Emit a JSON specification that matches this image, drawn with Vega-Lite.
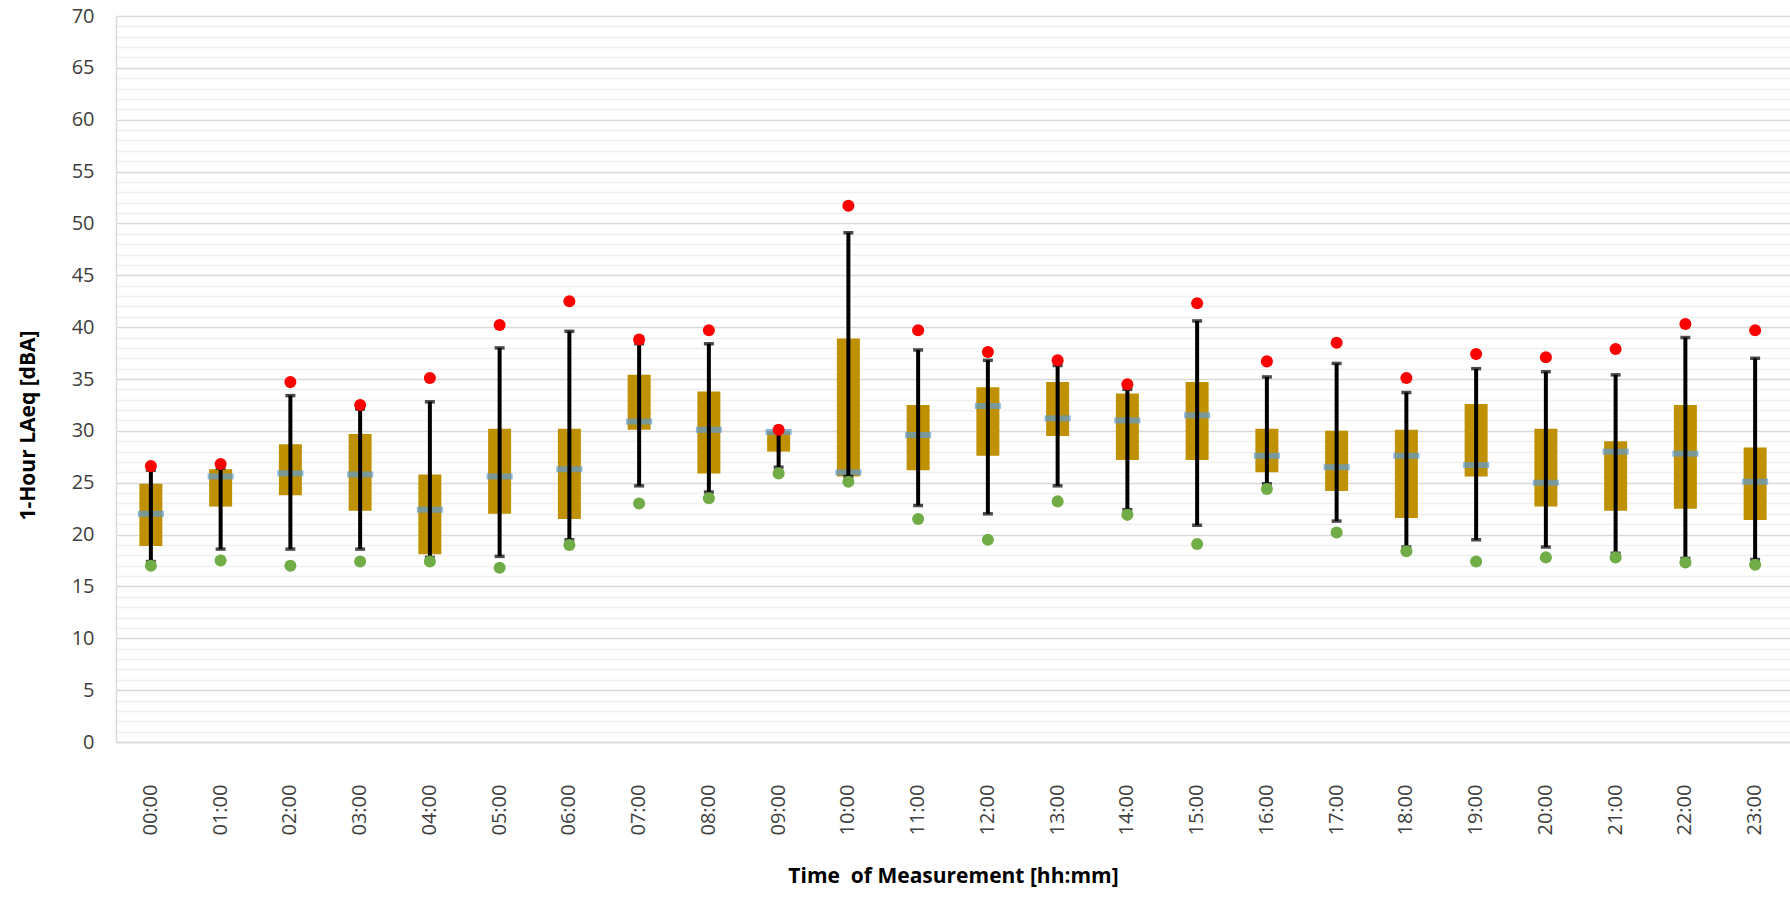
{
  "$schema": "https://vega.github.io/schema/vega-lite/v6.json",
  "autosize": "none",
  "width": 1674,
  "height": 726,
  "padding": {"left": 116, "top": 16, "right": 0, "bottom": 157},
  "background": "white",
  "config": {
    "view": {"stroke": null},
    "font": "Open Sans"
  },
  "data": {
    "values": [
      {"hour": "00:00", "lo": 17.4, "q1": 18.9, "med": 22.0, "q3": 24.9, "hi": 26.2, "max": 26.6, "min": 17.0},
      {"hour": "01:00", "lo": 18.6, "q1": 22.7, "med": 25.6, "q3": 26.3, "hi": 26.4, "max": 26.8, "min": 17.5},
      {"hour": "02:00", "lo": 18.6, "q1": 23.8, "med": 25.9, "q3": 28.7, "hi": 33.4, "max": 34.7, "min": 17.0},
      {"hour": "03:00", "lo": 18.6, "q1": 22.3, "med": 25.8, "q3": 29.7, "hi": 32.1, "max": 32.5, "min": 17.4},
      {"hour": "04:00", "lo": 17.8, "q1": 18.1, "med": 22.4, "q3": 25.8, "hi": 32.8, "max": 35.1, "min": 17.4},
      {"hour": "05:00", "lo": 17.9, "q1": 22.0, "med": 25.6, "q3": 30.2, "hi": 38.0, "max": 40.2, "min": 16.8},
      {"hour": "06:00", "lo": 19.5, "q1": 21.5, "med": 26.3, "q3": 30.2, "hi": 39.6, "max": 42.5, "min": 19.0},
      {"hour": "07:00", "lo": 24.7, "q1": 30.1, "med": 30.9, "q3": 35.4, "hi": 38.4, "max": 38.8, "min": 23.0},
      {"hour": "08:00", "lo": 24.1, "q1": 25.9, "med": 30.1, "q3": 33.8, "hi": 38.4, "max": 39.7, "min": 23.5},
      {"hour": "09:00", "lo": 26.5, "q1": 28.0, "med": 29.9, "q3": 30.0, "hi": 30.0, "max": 30.1, "min": 25.9},
      {"hour": "10:00", "lo": 25.6, "q1": 25.6, "med": 26.0, "q3": 38.9, "hi": 49.1, "max": 51.7, "min": 25.1},
      {"hour": "11:00", "lo": 22.8, "q1": 26.2, "med": 29.6, "q3": 32.5, "hi": 37.8, "max": 39.7, "min": 21.5},
      {"hour": "12:00", "lo": 22.0, "q1": 27.6, "med": 32.4, "q3": 34.2, "hi": 36.8, "max": 37.6, "min": 19.5},
      {"hour": "13:00", "lo": 24.7, "q1": 29.5, "med": 31.2, "q3": 34.7, "hi": 36.3, "max": 36.8, "min": 23.2},
      {"hour": "14:00", "lo": 22.4, "q1": 27.2, "med": 31.0, "q3": 33.6, "hi": 34.0, "max": 34.5, "min": 21.9},
      {"hour": "15:00", "lo": 20.9, "q1": 27.2, "med": 31.5, "q3": 34.7, "hi": 40.6, "max": 42.3, "min": 19.1},
      {"hour": "16:00", "lo": 24.9, "q1": 26.0, "med": 27.6, "q3": 30.2, "hi": 35.2, "max": 36.7, "min": 24.4},
      {"hour": "17:00", "lo": 21.3, "q1": 24.2, "med": 26.5, "q3": 30.0, "hi": 36.5, "max": 38.5, "min": 20.2},
      {"hour": "18:00", "lo": 18.8, "q1": 21.6, "med": 27.6, "q3": 30.1, "hi": 33.7, "max": 35.1, "min": 18.4},
      {"hour": "19:00", "lo": 19.5, "q1": 25.6, "med": 26.7, "q3": 32.6, "hi": 36.0, "max": 37.4, "min": 17.4},
      {"hour": "20:00", "lo": 18.8, "q1": 22.7, "med": 25.0, "q3": 30.2, "hi": 35.7, "max": 37.1, "min": 17.8},
      {"hour": "21:00", "lo": 18.2, "q1": 22.3, "med": 28.0, "q3": 29.0, "hi": 35.4, "max": 37.9, "min": 17.8},
      {"hour": "22:00", "lo": 17.7, "q1": 22.5, "med": 27.8, "q3": 32.5, "hi": 39.0, "max": 40.3, "min": 17.3},
      {"hour": "23:00", "lo": 17.6, "q1": 21.4, "med": 25.1, "q3": 28.4, "hi": 37.0, "max": 39.7, "min": 17.1}
    ]
  },
  "encoding": {
    "x": {
      "field": "hour",
      "type": "ordinal",
      "sort": null,
      "scale": {"paddingInner": 0, "paddingOuter": 0},
      "axis": {
        "title": "Time\u00a0 of Measurement [hh:mm]",
        "titleFont": "Open Sans",
        "titleFontSize": 21,
        "titleFontWeight": "bold",
        "titleColor": "#000000",
        "titleBaseline": "top",
        "titleY": 123,
        "labelAngle": -90,
        "labelFont": "Open Sans",
        "labelFontSize": 20,
        "labelColor": "#404040",
        "labelPadding": 42,
        "ticks": false,
        "domainColor": "#d9d9d9",
        "domainWidth": 1.5,
        "grid": false
      }
    }
  },
  "layer": [
    {
      "mark": {"type": "bar", "size": 23, "color": "#BF9000"},
      "encoding": {
        "y": {
          "field": "q1",
          "type": "quantitative",
          "scale": {"domain": [0, 70], "nice": false, "zero": true},
          "axis": {
            "title": "1-Hour LAeq [dBA]",
            "titleFont": "Open Sans",
            "titleFontSize": 21,
            "titleFontWeight": "bold",
            "titleColor": "#000000",
            "titleAngle": 270,
            "titleAlign": "center",
            "titleBaseline": "middle",
            "titleX": -88,
            "titleY": 409,
            "values": [0,1,2,3,4,5,6,7,8,9,10,11,12,13,14,15,16,17,18,19,20,21,22,23,24,25,26,27,28,29,30,31,32,33,34,35,36,37,38,39,40,41,42,43,44,45,46,47,48,49,50,51,52,53,54,55,56,57,58,59,60,61,62,63,64,65,66,67,68,69,70],
            "tickCount": 71,
            "labelExpr": "datum.value % 5 === 0 ? datum.label : ''",
            "labelFont": "Open Sans",
            "labelFontSize": 20,
            "labelColor": "#404040",
            "labelPadding": 22,
            "labelOverlap": false,
            "ticks": false,
            "domainColor": "#d9d9d9",
            "domainWidth": 1.5,
            "grid": true,
            "gridColor": {"condition": {"test": "datum.value % 5 === 0", "value": "#d9d9d9"}, "value": "#f0f0f0"},
            "gridWidth": {"condition": {"test": "datum.value % 5 === 0", "value": 1.5}, "value": 1.3}
          }
        },
        "y2": {"field": "q3"}
      }
    },
    {
      "mark": {"type": "tick", "size": 26, "thickness": 6, "color": "#5B9BD5"},
      "encoding": {"y": {"field": "med", "type": "quantitative"}}
    },
    {
      "mark": {"type": "rule", "strokeWidth": 4, "color": "#000000"},
      "encoding": {
        "y": {"field": "lo", "type": "quantitative"},
        "y2": {"field": "hi"}
      }
    },
    {
      "mark": {"type": "tick", "size": 10, "thickness": 3.5, "color": "#000000"},
      "encoding": {"y": {"field": "hi", "type": "quantitative"}}
    },
    {
      "mark": {"type": "tick", "size": 10, "thickness": 3.5, "color": "#000000"},
      "encoding": {"y": {"field": "lo", "type": "quantitative"}}
    },
    {
      "mark": {"type": "circle", "size": 145, "color": "#FF0000", "opacity": 1},
      "encoding": {"y": {"field": "max", "type": "quantitative"}}
    },
    {
      "mark": {"type": "circle", "size": 145, "color": "#70AD47", "opacity": 1},
      "encoding": {"y": {"field": "min", "type": "quantitative"}}
    }
  ]
}
